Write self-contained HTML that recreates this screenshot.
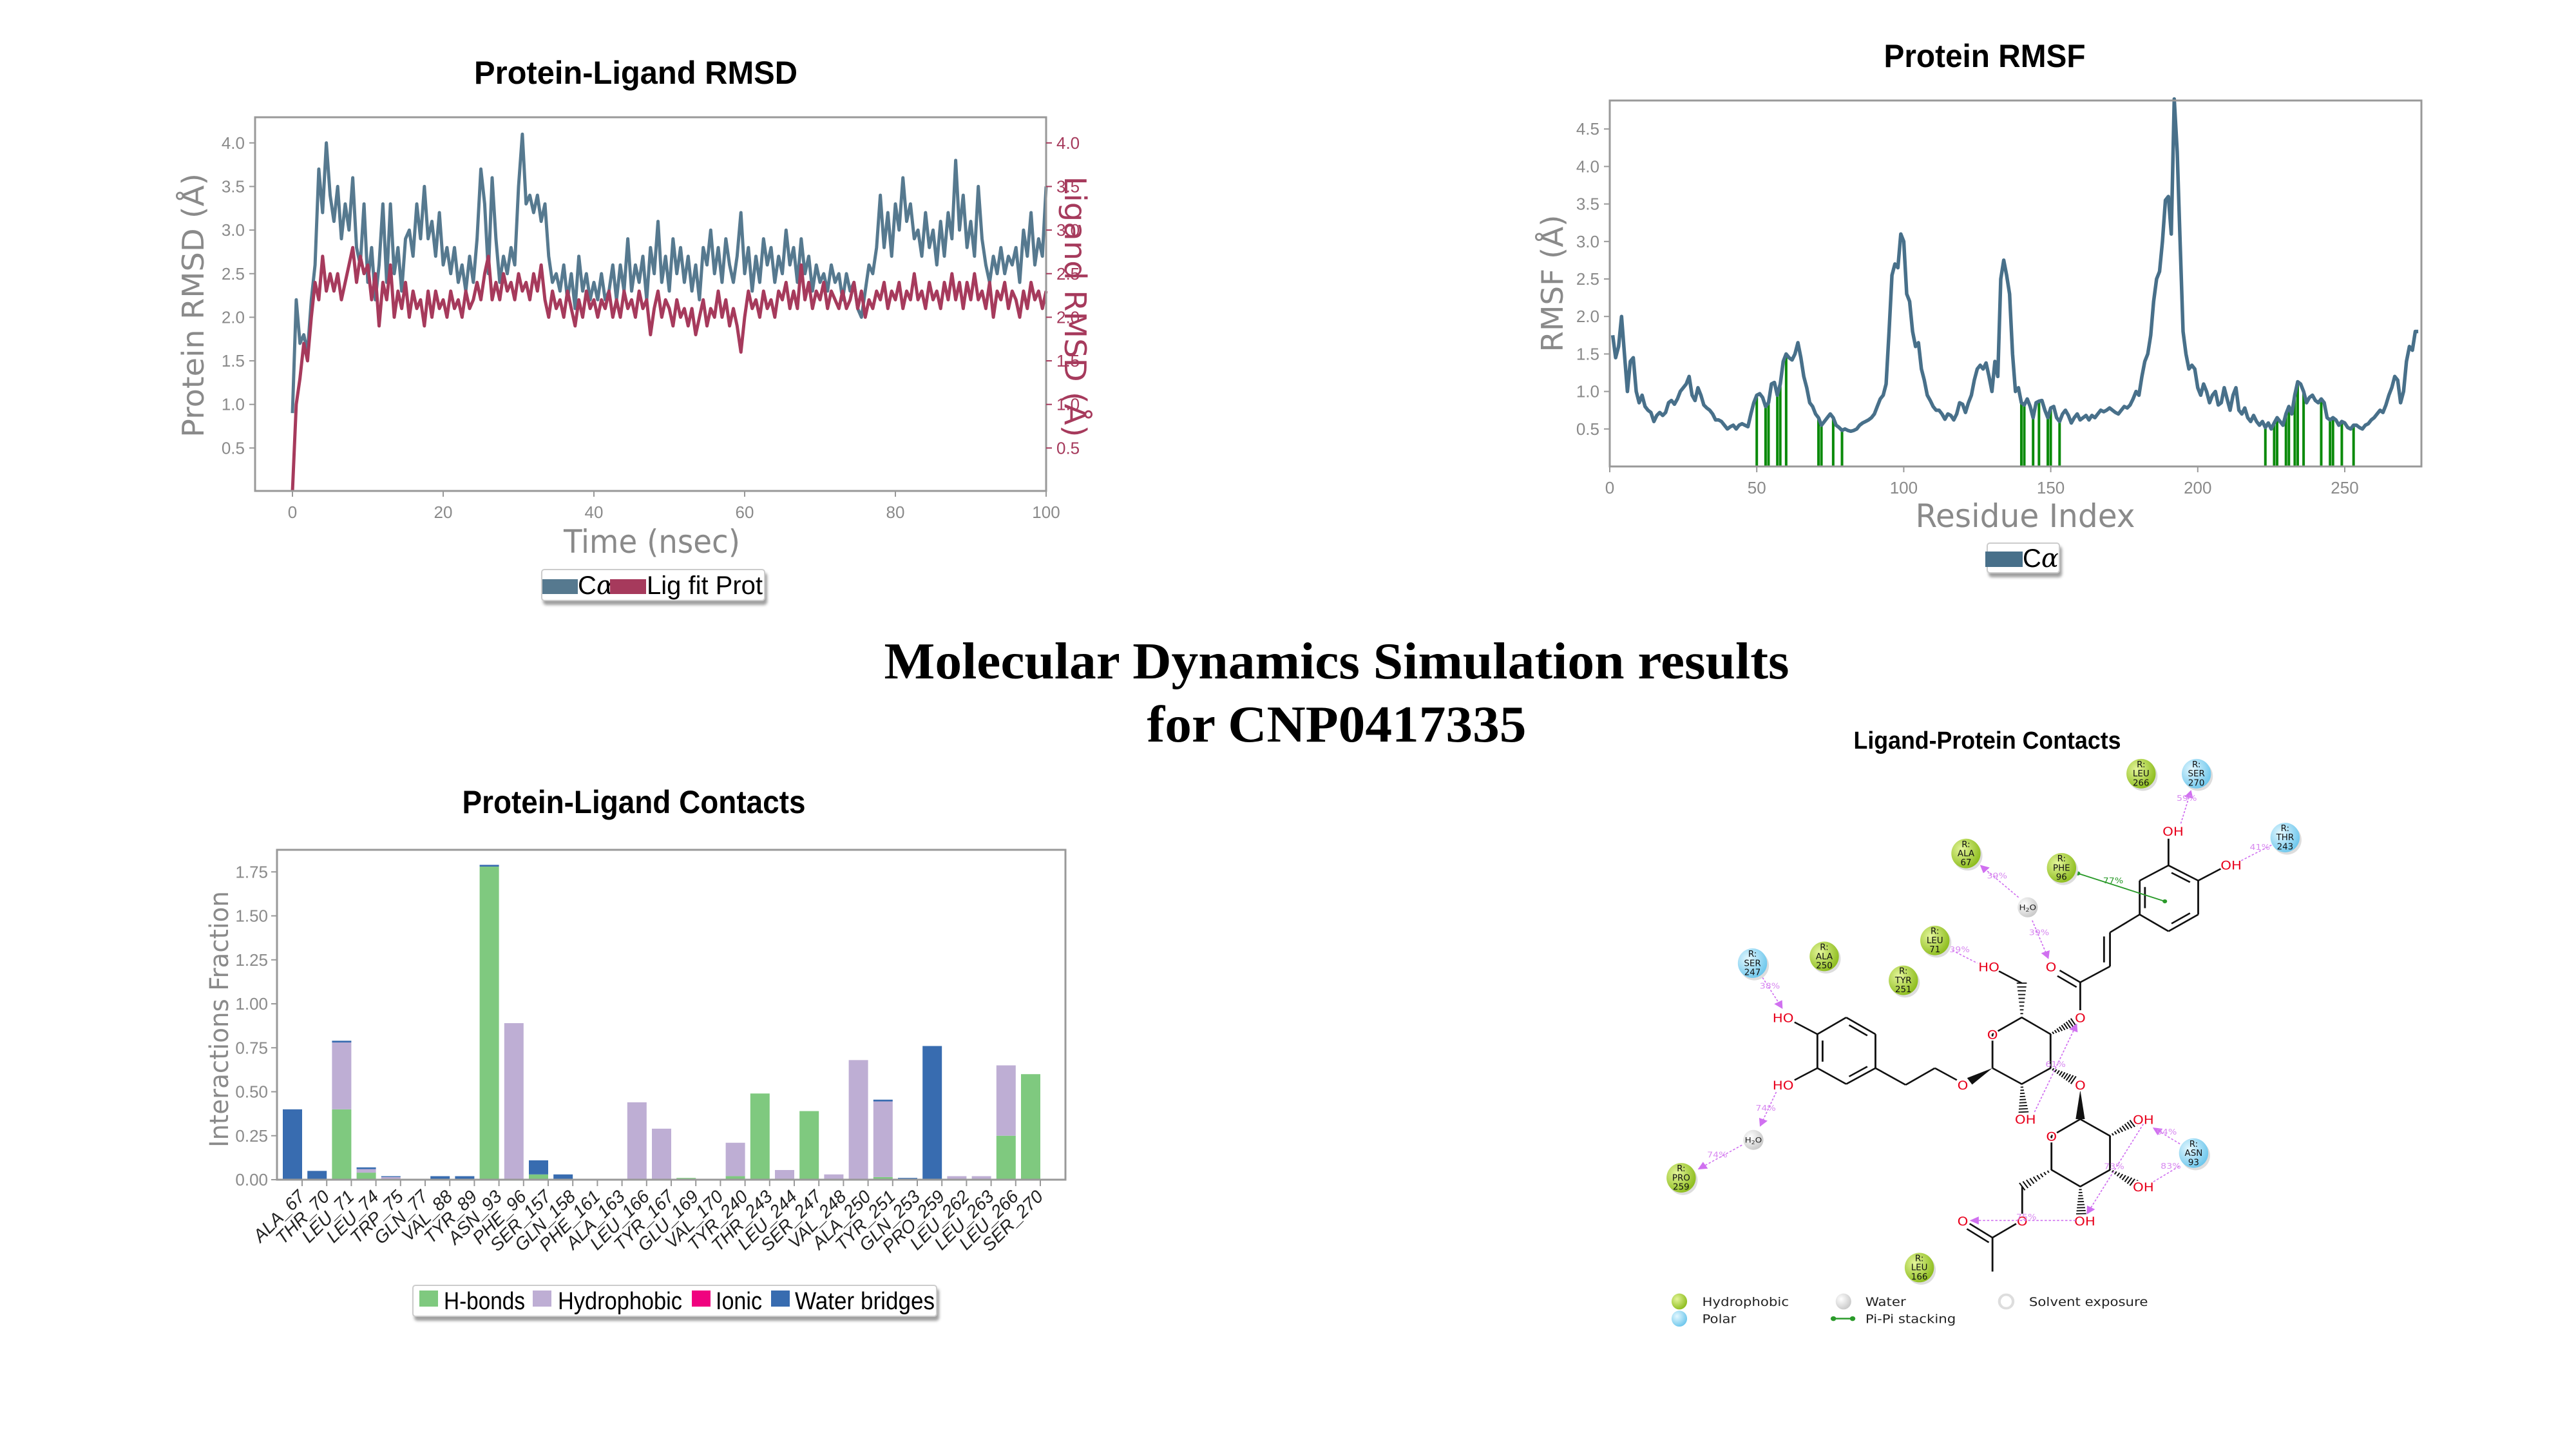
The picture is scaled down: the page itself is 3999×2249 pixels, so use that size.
<!DOCTYPE html>
<html><head><meta charset="utf-8"><title>Molecular Dynamics Simulation results</title>
<style>html,body{margin:0;padding:0;background:#fff}svg{display:block}</style></head>
<body>
<svg id="root" xmlns="http://www.w3.org/2000/svg" width="3999" height="2249" viewBox="0 0 3999 2249">
<defs>
<radialGradient id="gH" cx="35%" cy="35%" r="70%"><stop offset="0" stop-color="#e4f59a"/><stop offset="1" stop-color="#8cbc1c"/></radialGradient>
<radialGradient id="gP" cx="35%" cy="35%" r="70%"><stop offset="0" stop-color="#e4f8ff"/><stop offset="1" stop-color="#6cc6ec"/></radialGradient>
<radialGradient id="gW" cx="35%" cy="35%" r="70%"><stop offset="0" stop-color="#ffffff"/><stop offset="1" stop-color="#c8c8c8"/></radialGradient>
<filter id="sh" x="-20%" y="-20%" width="140%" height="160%"><feDropShadow dx="3" dy="6" stdDeviation="2" flood-color="#888" flood-opacity="0.8"/></filter>
<marker id="arr" viewBox="0 0 10 10" refX="9" refY="5" markerWidth="8" markerHeight="8" orient="auto"><path d="M0,0L10,5L0,10z" fill="#d070f0"/></marker>
</defs>
<rect x="0" y="0" width="3999" height="2249" fill="#fff"/>
<text x="2075" y="1053" font-family="Liberation Serif, serif" font-weight="bold" font-size="80" text-anchor="middle" textLength="1405" lengthAdjust="spacingAndGlyphs">Molecular Dynamics Simulation results</text>
<text x="2075" y="1151" font-family="Liberation Serif, serif" font-weight="bold" font-size="80" text-anchor="middle" textLength="589" lengthAdjust="spacingAndGlyphs">for CNP0417335</text>
<g id="rmsd"></g>
<g id="rmsf"></g>
<g id="contacts"></g>
<g id="ligand"></g>
</svg>
<script>
// ---------- RMSD data (0..100 ns, 0.5 ns step) ----------
const rmsdCa = [
0.9,2.2,1.7,1.8,1.6,2.2,2.6,3.7,3.2,4.0,3.4,3.1,3.5,2.9,3.3,3.0,3.6,2.8,2.6,3.3,
2.4,2.8,2.2,2.6,3.3,2.4,3.3,2.5,2.8,2.3,2.9,3.0,2.7,3.3,2.9,3.5,2.9,3.1,2.7,3.2,
2.6,2.8,2.5,2.8,2.4,2.6,2.3,2.7,2.4,2.9,3.7,3.3,2.5,3.6,2.9,2.4,2.7,2.5,2.8,2.6,
3.5,4.1,3.3,3.4,3.2,3.4,3.1,3.3,2.7,2.4,2.5,2.3,2.6,2.2,2.5,2.1,2.7,2.3,2.5,2.2,
2.4,2.2,2.5,2.2,2.3,2.6,2.2,2.6,2.3,2.9,2.3,2.6,2.4,2.7,2.2,2.8,2.5,3.1,2.4,2.7,
2.3,2.9,2.5,2.8,2.4,2.7,2.3,2.6,2.2,2.8,2.6,3.0,2.5,2.8,2.4,2.9,2.6,2.4,2.7,3.2,
2.5,2.8,2.3,2.7,2.4,2.9,2.6,2.8,2.4,2.7,2.5,3.0,2.6,2.8,2.4,2.9,2.5,2.7,2.3,2.6,
2.4,2.5,2.3,2.6,2.4,2.5,2.2,2.5,2.3,2.4,2.1,2.0,2.3,2.6,2.5,2.8,3.4,2.8,3.2,2.7,
3.3,3.0,3.6,3.1,3.3,2.9,3.0,2.7,3.2,2.8,3.0,2.6,3.1,2.7,3.2,2.9,3.8,3.0,3.4,2.8,
3.1,2.7,3.5,2.9,2.6,2.4,2.7,2.5,2.8,2.5,2.7,2.6,2.8,2.4,3.0,2.7,3.2,2.6,2.9,2.7,
3.5];
const rmsdLig = [
0.0,1.0,1.3,1.7,1.5,2.0,2.4,2.2,2.7,2.3,2.5,2.3,2.5,2.2,2.4,2.6,2.8,2.4,2.7,2.5,
2.6,2.2,2.5,1.9,2.4,2.2,2.6,2.0,2.3,2.1,2.4,2.0,2.3,2.1,2.2,1.9,2.3,2.0,2.3,2.1,
2.2,2.0,2.3,2.1,2.2,2.0,2.3,2.1,2.2,2.4,2.2,2.5,2.7,2.2,2.4,2.2,2.5,2.3,2.4,2.2,
2.5,2.3,2.4,2.2,2.5,2.3,2.6,2.2,2.0,2.3,2.1,2.2,2.0,2.3,2.1,1.9,2.2,2.0,2.3,2.1,
2.2,2.0,2.2,2.1,2.3,2.0,2.2,2.0,2.3,2.1,2.2,2.0,2.3,2.1,2.2,1.8,2.1,2.3,2.0,2.2,
2.1,1.9,2.2,2.0,2.1,1.9,2.1,1.8,2.0,2.2,1.9,2.1,2.0,2.3,2.0,2.2,1.9,2.1,1.9,1.6,
2.0,2.3,2.1,2.2,2.0,2.3,2.1,2.2,2.0,2.3,2.2,2.4,2.1,2.3,2.1,2.6,2.2,2.4,2.1,2.3,
2.2,2.4,2.1,2.3,2.2,2.1,2.3,2.1,2.2,2.4,2.1,2.3,2.0,2.2,2.1,2.3,2.2,2.4,2.1,2.3,
2.2,2.4,2.1,2.3,2.2,2.5,2.2,2.3,2.1,2.4,2.2,2.3,2.1,2.4,2.2,2.5,2.2,2.4,2.1,2.4,
2.2,2.5,2.2,2.3,2.1,2.4,2.0,2.3,2.2,2.4,2.1,2.3,2.2,2.0,2.3,2.1,2.4,2.2,2.3,2.1,
2.3];
const rmsdXTicks = [0,20,40,60,80,100];
const rmsdYTicks = [0.5,1.0,1.5,2.0,2.5,3.0,3.5,4.0];
const rmsdTimeMax = 100;

// ---------- RMSF data (residue index 1..275) ----------
const rmsfValues = [
1.75,1.45,1.6,2.0,1.5,1.0,1.4,1.45,1.0,0.85,0.95,0.8,0.75,0.72,0.6,0.68,0.72,0.68,0.72,0.85,
0.88,0.83,0.9,1.0,1.05,1.1,1.2,0.95,0.88,1.05,0.95,0.82,0.78,0.75,0.7,0.62,0.62,0.6,0.55,0.5,
0.53,0.55,0.5,0.55,0.57,0.55,0.53,0.7,0.85,0.95,0.97,0.92,0.8,0.85,1.1,1.12,0.95,1.1,1.4,1.5,
1.45,1.42,1.5,1.65,1.45,1.2,1.05,0.85,0.8,0.7,0.65,0.55,0.6,0.65,0.7,0.65,0.55,0.52,0.48,0.5,
0.48,0.47,0.48,0.5,0.55,0.58,0.6,0.62,0.65,0.7,0.8,0.9,0.95,1.1,1.8,2.55,2.7,2.65,3.1,3.0,
2.3,2.2,1.8,1.6,1.65,1.3,1.15,0.95,0.88,0.8,0.75,0.75,0.7,0.63,0.7,0.68,0.62,0.7,0.85,0.83,
0.72,0.85,0.95,1.15,1.3,1.35,1.3,1.38,1.2,1.0,1.4,1.2,2.5,2.75,2.55,2.3,1.5,1.0,1.05,0.85,
0.82,0.9,0.8,0.65,0.85,0.87,0.88,0.75,0.65,0.78,0.8,0.65,0.6,0.7,0.75,0.68,0.58,0.65,0.7,0.62,
0.65,0.68,0.62,0.68,0.65,0.7,0.75,0.73,0.75,0.78,0.75,0.72,0.7,0.75,0.8,0.78,0.82,0.9,1.0,0.95,
1.2,1.4,1.5,1.75,2.2,2.5,2.6,3.0,3.55,3.6,3.1,4.9,4.2,3.0,1.8,1.5,1.3,1.35,1.3,1.05,
0.95,1.1,1.0,0.85,0.95,1.0,0.82,0.85,1.05,0.9,0.75,0.95,1.05,0.75,0.7,0.78,0.65,0.6,0.68,0.6,
0.55,0.6,0.52,0.58,0.5,0.58,0.65,0.6,0.55,0.7,0.8,0.7,0.95,1.13,1.1,1.0,0.85,0.92,0.95,0.88,
0.85,0.9,0.85,0.65,0.62,0.65,0.62,0.55,0.6,0.58,0.52,0.5,0.55,0.55,0.52,0.5,0.55,0.57,0.62,0.65,
0.7,0.75,0.72,0.82,0.95,1.05,1.2,1.15,0.85,1.0,1.4,1.6,1.55,1.8,1.8];
const rmsfContactResidues = [50,53,54,57,58,60,71,72,76,79,140,141,144,146,149,150,153,223,226,227,230,231,233,234,236,242,245,246,249,253];
const rmsfXTicks = [0,50,100,150,200,250];
const rmsfYTicks = [0.5,1.0,1.5,2.0,2.5,3.0,3.5,4.0,4.5];

// ---------- Contacts data ----------
const contactResidues = ["ALA_67","THR_70","LEU_71","LEU_74","TRP_75","GLN_77","VAL_88","TYR_89","ASN_93","PHE_96","SER_157","GLN_158","PHE_161","ALA_163","LEU_166","TYR_167","GLU_169","VAL_170","TYR_240","THR_243","LEU_244","SER_247","VAL_248","ALA_250","TYR_251","GLN_253","PRO_259","LEU_262","LEU_263","LEU_266","SER_270"];
const hbonds      = [0,0,0.40,0.04,0,0,0,0,1.78,0,0.03,0,0,0,0,0,0.01,0,0.02,0.49,0,0.39,0,0,0.015,0,0,0,0,0.25,0.60];
const hydrophobic = [0,0,0.38,0.02,0.015,0,0,0,0,0.89,0,0,0,0.005,0.44,0.29,0,0,0.19,0,0.055,0,0.03,0.68,0.43,0,0,0.02,0.02,0.40,0];
const ionic       = [0,0,0,0,0,0,0,0,0,0,0,0,0,0,0,0,0,0,0,0,0,0,0,0,0,0,0,0,0,0,0];
const waterBridges= [0.40,0.05,0.01,0.01,0.005,0,0.02,0.02,0.01,0,0.08,0.03,0,0,0,0,0,0,0,0,0,0,0,0,0.01,0.01,0.76,0,0,0,0];
const contactYTicks = [0.00,0.25,0.50,0.75,1.00,1.25,1.50,1.75];

const NS = "http://www.w3.org/2000/svg";
function mk(tag, attrs, parent){
  const e = document.createElementNS(NS, tag);
  for (const k in attrs) e.setAttribute(k, attrs[k]);
  parent.appendChild(e);
  return e;
}
function txt(parent, x, y, s, attrs){
  const a = Object.assign({x:x, y:y}, attrs||{});
  const e = mk('text', a, parent);
  e.textContent = s;
  return e;
}
const GRAY = "#8a8a8a";
const NARROW = "Liberation Sans Narrow, Liberation Sans, sans-serif";

// ================= RMSD =================
(function(){
  const g = document.getElementById('rmsd');
  const L=396, R=1624, T=182, B=762;
  const x = t => 454 + t*(1624-454)/rmsdTimeMax;
  const y = v => 763 - v*135.3;
  let e;
  e = txt(g, 987, 130, "Protein-Ligand RMSD", {"font-family":NARROW,"font-weight":"bold","font-size":50,"text-anchor":"middle",textLength:502,lengthAdjust:"spacingAndGlyphs"});
  
  
  const step = rmsdTimeMax/(rmsdCa.length-1);
  let d = rmsdCa.map((v,i)=>(i?'L':'M')+x(i*step).toFixed(1)+','+y(v).toFixed(1)).join('');
  e = mk('path',{d:d,fill:'none',stroke:'#56798f','stroke-width':5,'stroke-linejoin':'round'},g);
  
  
  const step2 = rmsdTimeMax/(rmsdLig.length-1);
  d = rmsdLig.map((v,i)=>(i?'L':'M')+x(i*step2).toFixed(1)+','+y(v).toFixed(1)).join('');
  e = mk('path',{d:d,fill:'none',stroke:'#a63a5c','stroke-width':5,'stroke-linejoin':'round'},g);
  
  
  e = mk('rect',{x:L,y:T,width:R-L,height:B-T,fill:'none',stroke:'#999','stroke-width':3},g);
  
  
  rmsdYTicks.forEach(v=>{
    mk('line',{x1:L-9,x2:L,y1:y(v),y2:y(v),stroke:'#999','stroke-width':2},g);
    let t = txt(g, L-16, y(v)+9, v.toFixed(1), {"font-family":NARROW,"font-size":26,fill:GRAY,"text-anchor":"end"});
    
    
    mk('line',{x1:R,x2:R+9,y1:y(v),y2:y(v),stroke:'#a63a5c','stroke-width':2},g);
    t = txt(g, R+16, y(v)+9, v.toFixed(1), {"font-family":NARROW,"font-size":26,fill:'#a63a5c'});
    
    
  });
  rmsdXTicks.forEach(v=>{
    mk('line',{x1:x(v),x2:x(v),y1:B,y2:B+9,stroke:'#999','stroke-width':2},g);
    const t = txt(g, x(v), B+42, String(v), {"font-family":NARROW,"font-size":26,fill:GRAY,"text-anchor":"middle"});
    
    
  });
  e = txt(g, 1012, 858, "Time (nsec)", {"font-family":"DejaVu Sans Condensed, DejaVu Sans, sans-serif","font-size":50,fill:GRAY,"text-anchor":"middle",textLength:274,lengthAdjust:"spacingAndGlyphs"});
  
  
  e = txt(g, 0, 0, "Protein RMSD (Å)", {"font-family":"DejaVu Sans, sans-serif","font-size":46,fill:GRAY,"text-anchor":"middle",textLength:410,lengthAdjust:"spacingAndGlyphs",transform:"translate(316,474) rotate(-90)"});
  
  
  e = txt(g, 0, 0, "Ligand RMSD (Å)", {"font-family":"DejaVu Sans, sans-serif","font-size":46,fill:'#a63a5c',"text-anchor":"middle",textLength:405,lengthAdjust:"spacingAndGlyphs",transform:"translate(1653,476) rotate(90)"});
  
  
  const lg = mk('g',{},g);
  
  
  mk('rect',{x:841,y:884,width:346,height:48,fill:'#fff',stroke:'#ccc','stroke-width':2,rx:4,filter:'url(#sh)'},lg);
  mk('rect',{x:842,y:899,width:55,height:23,fill:'#56798f'},lg);
  e = txt(lg, 897, 922, "", {"font-family":NARROW,"font-size":40});
  e.innerHTML = 'C<tspan font-style="italic" font-family="DejaVu Serif, serif">α</tspan>';
  
  
  mk('rect',{x:947,y:899,width:56,height:23,fill:'#a63a5c'},lg);
  e = txt(lg, 1004, 922, "Lig fit Prot", {"font-family":NARROW,"font-size":40,textLength:180,lengthAdjust:"spacingAndGlyphs"});
  
  
})();

// ================= RMSF =================
(function(){
  const g = document.getElementById('rmsf');
  const L=2499, R=3759, T=156, B=724;
  const x = r => 2499 + r*4.564;
  const y = v => 724 - v*116.4;
  let e;
  e = txt(g, 3081, 104, "Protein RMSF", {"font-family":NARROW,"font-weight":"bold","font-size":50,"text-anchor":"middle",textLength:313,lengthAdjust:"spacingAndGlyphs"});
  
  
  rmsfContactResidues.forEach(r=>{
    const v = rmsfValues[r-1];
    const ln = mk('line',{x1:x(r),x2:x(r),y1:B,y2:y(v),stroke:'#0a8a0a','stroke-width':4},g);
    
    
  });
  const d = rmsfValues.map((v,i)=>(i?'L':'M')+x(i+1).toFixed(1)+','+y(v).toFixed(1)).join('');
  e = mk('path',{d:d,fill:'none',stroke:'#48708a','stroke-width':5.5,'stroke-linejoin':'round'},g);
  
  
  e = mk('rect',{x:L,y:T,width:R-L,height:B-T,fill:'none',stroke:'#999','stroke-width':3},g);
  
  
  rmsfYTicks.forEach(v=>{
    mk('line',{x1:L-9,x2:L,y1:y(v),y2:y(v),stroke:'#999','stroke-width':2},g);
    const t = txt(g, L-16, y(v)+9, v.toFixed(1), {"font-family":NARROW,"font-size":26,fill:GRAY,"text-anchor":"end"});
    
    
  });
  rmsfXTicks.forEach(v=>{
    mk('line',{x1:x(v),x2:x(v),y1:B,y2:B+9,stroke:'#999','stroke-width':2},g);
    const t = txt(g, x(v), B+42, String(v), {"font-family":NARROW,"font-size":26,fill:GRAY,"text-anchor":"middle"});
    
    
  });
  e = txt(g, 3144, 818, "Residue Index", {"font-family":"DejaVu Sans Condensed, DejaVu Sans, sans-serif","font-size":50,fill:GRAY,"text-anchor":"middle",textLength:341,lengthAdjust:"spacingAndGlyphs"});
  
  
  e = txt(g, 0, 0, "RMSF (Å)", {"font-family":"DejaVu Sans, sans-serif","font-size":46,fill:GRAY,"text-anchor":"middle",textLength:213,lengthAdjust:"spacingAndGlyphs",transform:"translate(2426,440) rotate(-90)"});
  
  
  const lg = mk('g',{},g);
  
  
  mk('rect',{x:3085,y:843,width:112,height:46,fill:'#fff',stroke:'#ccc','stroke-width':2,rx:4,filter:'url(#sh)'},lg);
  mk('rect',{x:3082,y:856,width:58,height:24,fill:'#48708a'},lg);
  e = txt(lg, 3140, 880, "", {"font-family":NARROW,"font-size":40});
  e.innerHTML = 'C<tspan font-style="italic" font-family="DejaVu Serif, serif">α</tspan>';
  
  
})();

// ================= Contacts =================
(function(){
  const g = document.getElementById('contacts');
  const L=430, R=1654, T=1319, B=1831;
  const y = v => 1831 - v*273;
  const tickX = i => 469 + i*38.2;
  const bw = 30;
  let e;
  e = txt(g, 984, 1262, "Protein-Ligand Contacts", {"font-family":NARROW,"font-weight":"bold","font-size":50,"text-anchor":"middle",textLength:533,lengthAdjust:"spacingAndGlyphs"});
  
  
  const series = [[hbonds,'#7fc97f','hbond'],[hydrophobic,'#beaed4','hydrophobic'],[ionic,'#f0027f','ionic'],[waterBridges,'#386cb0','water-bridge']];
  contactResidues.forEach((name,i)=>{
    let base = 0;
    series.forEach(s=>{
      const v = s[0][i];
      if (v>0){
        const r = mk('rect',{x:tickX(i)-bw,y:y(base+v),width:bw,height:y(base)-y(base+v),fill:s[1]},g);
        
        
      }
      base += v;
    });
    mk('line',{x1:tickX(i),x2:tickX(i),y1:B,y2:B+10,stroke:'#999','stroke-width':2},g);
    const t = txt(g, 0, 0, name, {"font-family":"Liberation Sans, sans-serif","font-style":"italic","font-size":28,fill:'#222',"text-anchor":"end",transform:"translate("+(tickX(i)+6)+","+(B+28)+") rotate(-45)"});
    
    
  });
  e = mk('rect',{x:L,y:T,width:R-L,height:B-T,fill:'none',stroke:'#999','stroke-width':3},g);
  
  
  contactYTicks.forEach(v=>{
    mk('line',{x1:L-9,x2:L,y1:y(v),y2:y(v),stroke:'#999','stroke-width':2},g);
    const t = txt(g, L-14, y(v)+9, v.toFixed(2), {"font-family":NARROW,"font-size":26,fill:GRAY,"text-anchor":"end"});
    
    
  });
  e = txt(g, 0, 0, "Interactions Fraction", {"font-family":"DejaVu Sans, sans-serif","font-size":40,fill:GRAY,"text-anchor":"middle",textLength:398,lengthAdjust:"spacingAndGlyphs",transform:"translate(354,1582) rotate(-90)"});
  
  
  const lg = mk('g',{},g);
  
  
  mk('rect',{x:641,y:1995,width:813,height:48,fill:'#fff',stroke:'#ccc','stroke-width':2,rx:4,filter:'url(#sh)'},lg);
  const items = [[651,'#7fc97f','H-bonds',689,126],[827,'#beaed4','Hydrophobic',866,193],[1074,'#f0027f','Ionic',1111,72],[1197,'#386cb0','Water bridges',1234,217]];
  items.forEach(it=>{
    mk('rect',{x:it[0],y:2003,width:29,height:25,fill:it[1]},lg);
    const t = txt(lg, it[3], 2032, it[2], {"font-family":NARROW,"font-size":38,textLength:it[4],lengthAdjust:"spacingAndGlyphs"});
    
    
  });
})();

// ================= Ligand diagram =================
(function(){
  const root = document.getElementById('ligand');
  let e = txt(root, 3085, 1162, "Ligand-Protein Contacts", {"font-family":NARROW,"font-weight":"bold","font-size":38,"text-anchor":"middle",textLength:415,lengthAdjust:"spacingAndGlyphs"});
  
  
  const g = mk('g',{transform:'translate(2541,1116) scale(0.7097,0.6192)'},root);
  const bond = (a,b,c,d,w)=>mk('line',{x1:a,y1:b,x2:c,y2:d,stroke:'#111','stroke-width':w||4},g);
  const poly = pts=>{for(let i=0;i<pts.length;i++){const p=pts[i],q=pts[(i+1)%pts.length];bond(p[0],p[1],q[0],q[1]);}};
  const inner = (a,b,c,d,cx,cy)=>{const k=0.18;const f=(px,py)=>[px+(cx-px)*k,py+(cy-py)*k];const p=f(a,b),q=f(c,d);const m=0.12;bond(p[0]+(q[0]-p[0])*m,p[1]+(q[1]-p[1])*m,q[0]-(q[0]-p[0])*m,q[1]-(q[1]-p[1])*m);};
  const hash = (a,b,c,d)=>{const n=9;const dx=c-a,dy=d-b;const len=Math.hypot(dx,dy);const px=-dy/len,py=dx/len;for(let i=0;i<=n;i++){const t=i/n;const w=2+t*9;const x=a+dx*t,y=b+dy*t;mk('line',{x1:x-px*w,y1:y-py*w,x2:x+px*w,y2:y+py*w,stroke:'#111','stroke-width':3},g);}};
  const wedge = (a,b,c,d)=>{const dx=c-a,dy=d-b;const len=Math.hypot(dx,dy);const px=-dy/len*10,py=dx/len*10;mk('polygon',{points:a+','+b+' '+(c+px)+','+(d+py)+' '+(c-px)+','+(d-py),fill:'#111'},g);};
  // caffeoyl ring
  const r1=[[1100,405],[1163,367],[1228,405],[1228,490],[1163,532],[1100,490]];
  poly(r1); inner(1100,405,1100,490,1164,448); inner(1163,367,1228,405,1164,448); inner(1228,490,1163,532,1164,448);
  bond(1163,367,1163,300); bond(1228,405,1278,375);
  bond(1100,490,1035,535); bond(1035,535,1035,620); bond(1022,545,1022,610); bond(1035,620,970,660);
  bond(970,660,925,630); bond(962,672,920,644); bond(970,660,970,730);
  hash(905,790,955,760);
  // sugar 1
  poly([[778,790],[842,748],[905,790],[905,875],[842,915],[778,875]]);
  hash(842,748,842,662); bond(842,662,792,632);
  hash(842,915,846,985);
  wedge(778,875,728,908);
  bond(700,905,652,875); bond(652,875,588,917); bond(588,917,522,875);
  // catechol ring
  const r2=[[522,875],[522,790],[458,748],[395,790],[395,875],[458,915]];
  poly(r2); inner(522,790,458,748,458,832); inner(395,790,395,875,458,832); inner(458,915,522,875,458,832);
  bond(395,790,345,760); bond(395,875,345,905);
  hash(905,875,955,905);
  wedge(970,930,970,1003);
  // sugar 2
  poly([[970,1003],[1035,1045],[1035,1130],[970,1172],[907,1130],[907,1045]]);
  hash(1035,1045,1090,1010); hash(1035,1130,1090,1165); hash(970,1172,972,1240);
  hash(907,1130,843,1172); bond(843,1172,843,1240); bond(830,1265,778,1300);
  bond(778,1300,728,1265); bond(770,1312,722,1278); bond(778,1300,778,1385);
  // atom labels
  const lab = (x,y,s)=>{const t=txt(g,x,y,s,{"font-family":"DejaVu Sans, sans-serif","font-size":30,fill:'#e8001c',"text-anchor":"middle",stroke:'#fff','stroke-width':8,'paint-order':'stroke'});};
  [[1173,292,'OH'],[1300,377,'OH'],[906,632,'O'],[970,760,'O'],[770,632,'HO'],[778,802,'O'],[713,929,'O'],[850,1014,'OH'],[970,929,'O'],[320,760,'HO'],[320,929,'HO'],[907,1057,'O'],[1108,1015,'OH'],[1108,1184,'OH'],[980,1269,'OH'],[843,1269,'O'],[713,1269,'O']].forEach(a=>lab(a[0],a[1],a[2]));
  // interactions
  const hl = (a,b,c,d,pct,lx,ly,arrow)=>{const l=mk('line',{x1:a,y1:b,x2:c,y2:d,stroke:'#d070f0','stroke-width':2.5,'stroke-dasharray':'5,4'},g);if(arrow)l.setAttribute('marker-end','url(#arr)');const t=txt(g,lx,ly,pct,{"font-family":"DejaVu Sans, sans-serif","font-size":20,fill:'#d88af0',"text-anchor":"middle"});};
  hl(835,447,752,367,'39%',788,400,true);
  hl(865,505,900,600,'39%',880,542,true);
  hl(690,580,745,612,'39%',706,585,false);
  hl(275,648,318,725,'38%',291,676,true);
  hl(305,935,270,1020,'74%',282,982,true);
  hl(230,1068,135,1128,'74%',176,1099,true);
  hl(1190,262,1212,180,'59%',1203,205,true);
  hl(1322,355,1390,315,'41%',1363,328,false);
  hl(870,985,962,765,'61%',916,872,true);
  hl(1108,1015,985,1240,'73%',1044,1128,true);
  hl(960,1257,730,1257,'75%',852,1255,true);
  hl(1188,1065,1130,1025,'94%',1159,1042,true);
  hl(1130,1160,1188,1120,'83%',1168,1127,false);
  e = mk('line',{x1:965,y1:387,x2:1155,y2:457,stroke:'#2a9a2a','stroke-width':3},g);
  
  
  mk('circle',{cx:965,cy:387,r:5,fill:'#2a9a2a'},g); mk('circle',{cx:1155,cy:457,r:5,fill:'#2a9a2a'},g);
  e = txt(g,1042,412,'77%',{"font-family":"DejaVu Sans, sans-serif","font-size":20,fill:'#2a9a2a',"text-anchor":"middle"});
  
  
  // residues
  const res = (x,y,type,name,num)=>{const rg=mk('g',{},g);mk('ellipse',{cx:x+4,cy:y+6,rx:32,ry:37,fill:'#ddd'},rg);mk('ellipse',{cx:x,cy:y,rx:32,ry:37,fill:type=='H'?'url(#gH)':'url(#gP)'},rg);[['R:',-16],[name,7],[String(num),30]].forEach(l=>txt(rg,x,y+l[1],l[0],{"font-family":"DejaVu Sans Condensed, DejaVu Sans, sans-serif","font-size":21,fill:'#111',"text-anchor":"middle"}));};
  res(1103,137,'H','LEU',266); res(1224,137,'P','SER',270); res(1418,297,'P','THR',243);
  res(720,337,'H','ALA',67); res(929,373,'H','PHE',96); res(652,555,'H','LEU',71);
  res(410,595,'H','ALA',250); res(253,612,'P','SER',247); res(583,655,'H','TYR',251);
  res(1218,1088,'P','ASN',93); res(97,1150,'H','PRO',259); res(618,1375,'H','LEU',166);
  const water=(x,y)=>{const wg=mk('g',{},g);mk('ellipse',{cx:x,cy:y,rx:22,ry:25,fill:'url(#gW)'},wg);const t=txt(wg,x,y+7,'H',{"font-family":"DejaVu Sans, sans-serif","font-size":19,fill:'#222',"text-anchor":"middle"});t.innerHTML='H<tspan font-size="13" dy="4">2</tspan><tspan dy="-4">O</tspan>';};
  water(855,472); water(255,1055);
  // legend
  const lg = mk('g',{},g);
  
  
  mk('ellipse',{cx:93,cy:1460,rx:17,ry:20,fill:'url(#gH)'},lg);
  mk('ellipse',{cx:93,cy:1503,rx:17,ry:20,fill:'url(#gP)'},lg);
  mk('ellipse',{cx:452,cy:1460,rx:17,ry:20,fill:'url(#gW)'},lg);
  mk('line',{x1:430,y1:1503,x2:472,y2:1503,stroke:'#2a9a2a','stroke-width':4},lg);
  mk('circle',{cx:430,cy:1503,r:6,fill:'#2a9a2a'},lg); mk('circle',{cx:472,cy:1503,r:6,fill:'#2a9a2a'},lg);
  mk('ellipse',{cx:808,cy:1460,rx:15,ry:17,fill:'none',stroke:'#ddd','stroke-width':6},lg);
  [[143,1471,'Hydrophobic'],[143,1514,'Polar'],[500,1471,'Water'],[500,1514,'Pi-Pi stacking'],[858,1471,'Solvent exposure']].forEach(l=>{const t=txt(lg,l[0],l[1],l[2],{"font-family":"DejaVu Sans, sans-serif","font-size":30,fill:'#222'});});
})();
</script>
</body></html>
